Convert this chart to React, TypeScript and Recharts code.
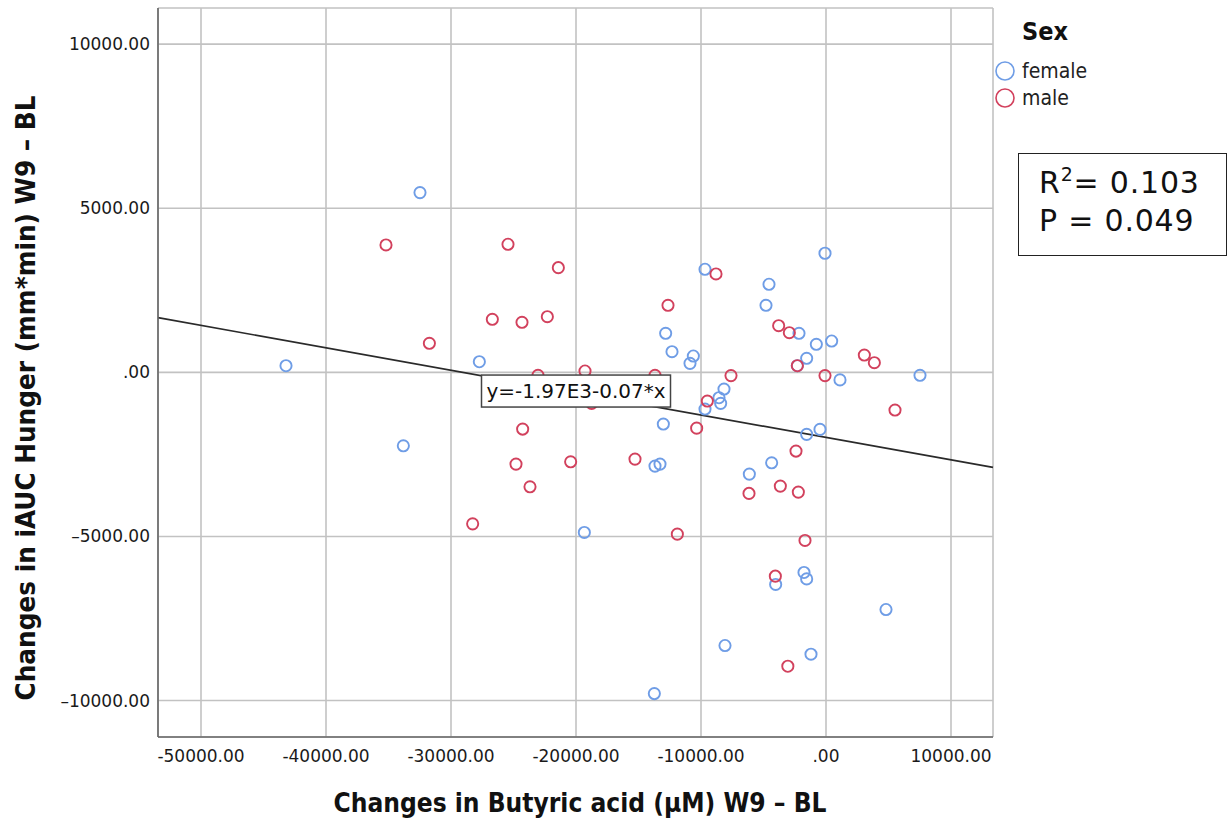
import React from "react";
import {
  ScatterChart,
  Scatter,
  XAxis,
  YAxis,
  CartesianGrid,
  ReferenceLine,
  ReferenceDot,
} from "recharts";

// ---- data ----
const femalePoints = [
  { x: -32480, y: 5476 },
  { x: -43200, y: 201 },
  { x: -27733, y: 323 },
  { x: -33813, y: -2238 },
  { x: -12827, y: 1189 },
  { x: -12320, y: 628 },
  { x: -10613, y: 497 },
  { x: -10880, y: 274 },
  { x: -9680, y: 3140 },
  { x: -80, y: 3628 },
  { x: -4560, y: 2683 },
  { x: -4800, y: 2043 },
  { x: -2160, y: 1189 },
  { x: -773, y: 854 },
  { x: 453, y: 954 },
  { x: -1547, y: 427 },
  { x: -2293, y: 201 },
  { x: 1120, y: -230 },
  { x: 7520, y: -90 },
  { x: -8160, y: -509 },
  { x: -8560, y: -774 },
  { x: -8427, y: -945 },
  { x: -9680, y: -1119 },
  { x: -1547, y: -1890 },
  { x: -480, y: -1738 },
  { x: -4347, y: -2756 },
  { x: -6133, y: -3101 },
  { x: -4027, y: -6463 },
  { x: -1760, y: -6098 },
  { x: -1547, y: -6293 },
  { x: 4800, y: -7226 },
  { x: -8080, y: -8323 },
  { x: -1200, y: -8588 },
  { x: -19333, y: -4878 },
  { x: -13680, y: -2857 },
  { x: -13280, y: -2796 },
  { x: -13013, y: -1576 },
  { x: -13733, y: -9787 },
];

const malePoints = [
  { x: -35200, y: 3881 },
  { x: -31730, y: 884 },
  { x: -25440, y: 3902 },
  { x: -21413, y: 3189 },
  { x: -26693, y: 1616 },
  { x: -24320, y: 1524 },
  { x: -22293, y: 1695 },
  { x: -12640, y: 2043 },
  { x: -8800, y: 2997 },
  { x: -19280, y: 40 },
  { x: -23040, y: -90 },
  { x: -13680, y: -90 },
  { x: -18747, y: -945 },
  { x: -3787, y: 1421 },
  { x: -2933, y: 1207 },
  { x: -2293, y: 201 },
  { x: 3067, y: 527 },
  { x: 3867, y: 293 },
  { x: -7600, y: -100 },
  { x: -80, y: -100 },
  { x: -9493, y: -875 },
  { x: 5520, y: -1149 },
  { x: -10347, y: -1700 },
  { x: -2400, y: -2399 },
  { x: -6160, y: -3689 },
  { x: -3653, y: -3466 },
  { x: -2213, y: -3649 },
  { x: -1680, y: -5122 },
  { x: -4053, y: -6210 },
  { x: -3053, y: -8954 },
  { x: -24267, y: -1729 },
  { x: -24800, y: -2796 },
  { x: -20427, y: -2725 },
  { x: -23680, y: -3488 },
  { x: -28267, y: -4616 },
  { x: -11893, y: -4930 },
  { x: -15280, y: -2643 },
];

const fitLine = [
  { x: -53440, y: 1665 },
  { x: 13360, y: -2896 },
];

const equationAnchor = { x: -20000, y: -570 };
const equationText = "y=-1.97E3-0.07*x";

const xTicks = [-50000, -40000, -30000, -20000, -10000, 0, 10000];
const yTicks = [-10000, -5000, 0, 5000, 10000];
const xDomain = [-53440, 13360];
const yDomain = [-11110, 11100];

const xTitle = "Changes in Butyric acid (µM)  W9 – BL";
const yTitle = "Changes in iAUC Hunger (mm*min) W9 – BL";
const legendTitle = "Sex";
const legendItems = ["female", "male"];
const statR2 = "0.103";
const statP = "0.049";

// ---- styles ----
const BLUE = "#6f9de6";
const RED = "#d2415d";
const TICK_FONT = "'DejaVu Sans', Verdana, sans-serif";
const TITLE_FONT = "'Liberation Sans Narrow', 'DejaVu Sans Condensed', 'Liberation Sans', sans-serif";

const fmtX = (v: number) => (v === 0 ? ".00" : v.toFixed(2));
const fmtY = (v: number) =>
  v === 0 ? ".00" : v < 0 ? "–" + Math.abs(v).toFixed(2) : v.toFixed(2);

const ring = (color: string) => (props: any) => {
  const { cx, cy } = props;
  if (cx == null || cy == null) return <g />;
  return <circle cx={cx} cy={cy} r={5.6} fill="none" stroke={color} strokeWidth={1.9} />;
};

const EquationShape = (props: any) => {
  const { cx, cy } = props;
  const w = 189;
  const h = 32;
  return (
    <g>
      <rect x={cx - w / 2} y={cy - h / 2} width={w} height={h} fill="#fff" stroke="#444" strokeWidth={1.5} />
      <text
        x={cx}
        y={cy + 7}
        textAnchor="middle"
        fontFamily={TICK_FONT}
        fontSize={19}
        fill="#111"
        textLength={179}
        lengthAdjust="spacingAndGlyphs"
      >
        {equationText}
      </text>
    </g>
  );
};

export default function App() {
  return (
    <div style={{ position: "absolute", left: 0, top: 0, width: 1229, height: 818, background: "#fff" }}>
      <ScatterChart width={1229} height={818} margin={{ top: 8, right: 236, bottom: 0, left: 0 }}>
        <CartesianGrid stroke="#c2c2c2" strokeWidth={1.6} />
        <XAxis
          type="number"
          dataKey="x"
          domain={xDomain}
          ticks={xTicks}
          allowDataOverflow
          height={81}
          tickFormatter={fmtX}
          tickLine={false}
          tickMargin={7}
          axisLine={{ stroke: "#666", strokeWidth: 1.6 }}
          tick={{ fontSize: 17, fill: "#1a1a1a", fontFamily: TICK_FONT }}
          label={{
            content: () => (
              <text
                x={580}
                y={812}
                textAnchor="middle"
                fontFamily={TITLE_FONT}
                fontWeight="bold"
                fontSize={26}
                fill="#111"
                textLength={493}
                lengthAdjust="spacingAndGlyphs"
              >
                {xTitle}
              </text>
            ),
          }}
        />
        <YAxis
          type="number"
          dataKey="y"
          domain={yDomain}
          ticks={yTicks}
          allowDataOverflow
          width={158}
          tickFormatter={fmtY}
          tickLine={false}
          tickMargin={2}
          axisLine={{ stroke: "#666", strokeWidth: 1.6 }}
          tick={{ fontSize: 17, fill: "#1a1a1a", fontFamily: TICK_FONT }}
          label={{
            content: () => (
              <text
                x={35}
                y={398}
                transform="rotate(-90 35 398)"
                textAnchor="middle"
                fontFamily={TITLE_FONT}
                fontWeight="bold"
                fontSize={26}
                fill="#111"
                textLength={605}
                lengthAdjust="spacingAndGlyphs"
              >
                {yTitle}
              </text>
            ),
          }}
        />
        <ReferenceLine segment={fitLine} stroke="#2a2a2a" strokeWidth={1.7} ifOverflow="visible" />
        <Scatter name="female" data={femalePoints} shape={ring(BLUE)} isAnimationActive={false} />
        <Scatter name="male" data={malePoints} shape={ring(RED)} isAnimationActive={false} />
        <ReferenceDot
          x={equationAnchor.x}
          y={equationAnchor.y}
          ifOverflow="visible"
          shape={EquationShape}
        />
      </ScatterChart>

      {/* Legend */}
      <div style={{ position: "absolute", left: 994, top: 14, fontFamily: TITLE_FONT, color: "#111" }}>
        <div style={{ position: "absolute", left: 28, top: 0, fontWeight: "bold", fontSize: 25, lineHeight: "36px" }}>
          {legendTitle}
        </div>
        {legendItems.map((name, i) => (
          <div key={name} style={{ position: "absolute", left: 0, top: 45 + i * 27, height: 24, display: "flex", alignItems: "center", whiteSpace: "nowrap" }}>
            <svg width={24} height={24} style={{ display: "block" }}>
              <circle cx={11} cy={12} r={9} fill="none" stroke={i === 0 ? BLUE : RED} strokeWidth={1.6} />
            </svg>
            <span style={{ fontSize: 21, marginLeft: 4, color: "#222" }}>{name}</span>
          </div>
        ))}
      </div>

      {/* Stats box */}
      <div
        style={{
          position: "absolute",
          left: 1018,
          top: 153,
          width: 209,
          height: 103,
          border: "1px solid #222",
          boxSizing: "border-box",
          fontFamily: TICK_FONT,
          fontSize: 30,
          letterSpacing: 0.8,
          color: "#111",
          paddingLeft: 20,
          paddingTop: 10,
          lineHeight: "38px",
          whiteSpace: "nowrap",
        }}
      >
        <div>
          R<sup style={{ fontSize: 19, verticalAlign: "12px", lineHeight: 0 }}>2</sup>= {statR2}
        </div>
        <div>P = {statP}</div>
      </div>
    </div>
  );
}
